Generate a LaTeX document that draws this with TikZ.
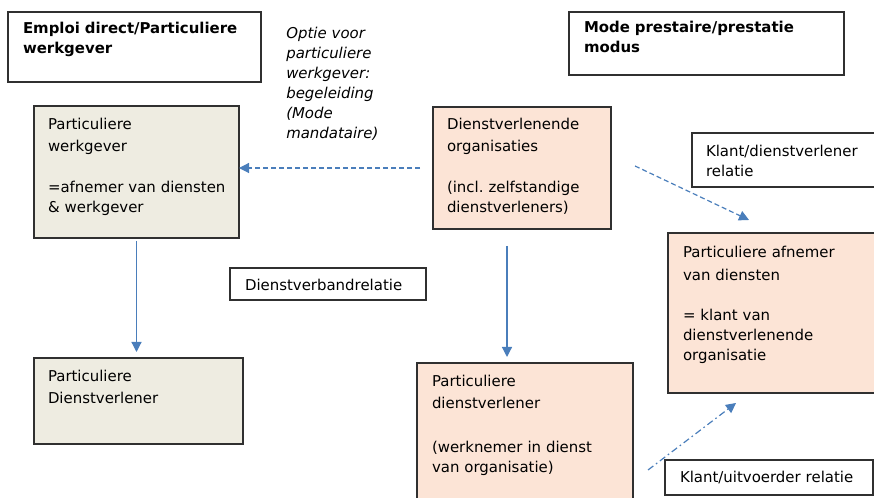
\documentclass[tikz,border=0pt]{standalone}
\usepackage{fontspec}
\setmainfont{DejaVu Sans}
\usetikzlibrary{arrows.meta}

\definecolor{werkgrey}{HTML}{EEECE1}
\definecolor{orgpeach}{HTML}{FCE4D6}
\definecolor{linkblue}{HTML}{4A7EBB}
\definecolor{edgegrey}{HTML}{303030}
\newcommand{\diagfont}{\fontsize{11.2}{15}\selectfont\frenchspacing}

\begin{document}
\begin{tikzpicture}[x=0.75pt,y=-0.75pt,
    box/.style={draw=edgegrey,line width=0.9pt,anchor=north west,align=left,
        inner ysep=0pt,inner xsep=10.5pt,outer sep=0pt,font=\diagfont},
    link/.style={linkblue,line width=0.9pt,-{Triangle[length=7.5pt,width=7.5pt]}},
    dashlink/.style={link,dash pattern=on 3.75pt off 2.25pt},
    dotlink/.style={link,dash pattern=on 5pt off 2.5pt on 1.2pt off 2.5pt}]
    \useasboundingbox (0,0) rectangle (874,498);
    \clip (0,0) rectangle (874,498);

    % titles
    \node[box,font=\diagfont\bfseries,inner xsep=11.25pt,text width=167.25pt,
        text height=16.5pt,text depth=36pt] (title1) at (8,12)
        {Emploi direct/Particuliere\\werkgever};
    \node[box,font=\diagfont\bfseries,inner xsep=11.25pt,text width=183.75pt,
        text height=15.75pt,text depth=31.5pt] (title2) at (569,12)
        {Mode prestaire/prestatie\\modus};
    \node[font=\diagfont\itshape,anchor=base west,align=left,text width=100pt,
        inner sep=0pt] (optie) at (286,39)
        {Optie voor\\particuliere\\werkgever:\\begeleiding\\(Mode\\mandataire)};

    % left column
    \node[box,fill=werkgrey,text width=132.75pt,text height=18pt,text depth=81pt]
        (pw) at (34,106)
        {Particuliere\\[1.5pt]werkgever\\[15.75pt]\mbox{=afnemer van diensten}\\\& werkgever};
    \node[box,fill=werkgrey,text width=135.75pt,text height=18pt,text depth=46.5pt]
        (pd) at (34,358)
        {Particuliere\\[1.5pt]Dienstverlener};
    \node[box,inner xsep=11.25pt,text width=124.5pt,text height=17.25pt,text depth=6.75pt]
        (dvr) at (230,268) {Dienstverbandrelatie};

    % right side
    \node[box,fill=orgpeach,text width=112.5pt,text height=17.25pt,text depth=74.25pt]
        (do) at (433,107)
        {Dienstverlenende\\[1.5pt]organisaties\\[15.75pt](incl. zelfstandige\\dienstverleners)};
    \node[box,fill=orgpeach,inner xsep=11.25pt,text width=139.5pt,text height=18pt,text depth=99.75pt]
        (pdv) at (417,363)
        {Particuliere\\[1.5pt]dienstverlener\\[18pt](werknemer in dienst\\van organisatie)};
    \node[box,fill=orgpeach,inner xsep=11.25pt,text width=151.5pt,text height=18.75pt,text depth=101.25pt]
        (pa) at (668,233)
        {Particuliere afnemer\\[2.25pt]van diensten\\[15pt]= klant van\\dienstverlenende\\organisatie};
    \node[box,text width=135pt,text height=18pt,text depth=22.5pt]
        (kd) at (692,133) {Klant/dienstverlener\\relatie};
    \node[box,inner xsep=11.25pt,text width=133.5pt,text height=16.5pt,text depth=9.75pt]
        (ku) at (665,460) {\mbox{Klant/uitvoerder relatie}};

    % relations
    \coordinate (optstart) at (420,168);
    \coordinate (kdstart) at (635,166);
    \coordinate (kdend) at (749,220);
    \coordinate (kustart) at (648,470);
    \coordinate (kuend) at (736,403);

    \draw[dashlink] (optstart) -- (optstart -| pw.east);
    \draw[link,shorten <=2.25pt,shorten >=4.5pt] (pw.south) -- (pw.south |- pd.north);
    \draw[link,shorten <=12.75pt,shorten >=4.5pt] ([xshift=-11.25pt]do.south)
        -- ([xshift=-11.25pt]do.south |- pdv.north);
    \draw[dashlink] (kdstart) -- (kdend);
    \draw[dotlink] (kustart) -- (kuend);

\end{tikzpicture}
\end{document}
